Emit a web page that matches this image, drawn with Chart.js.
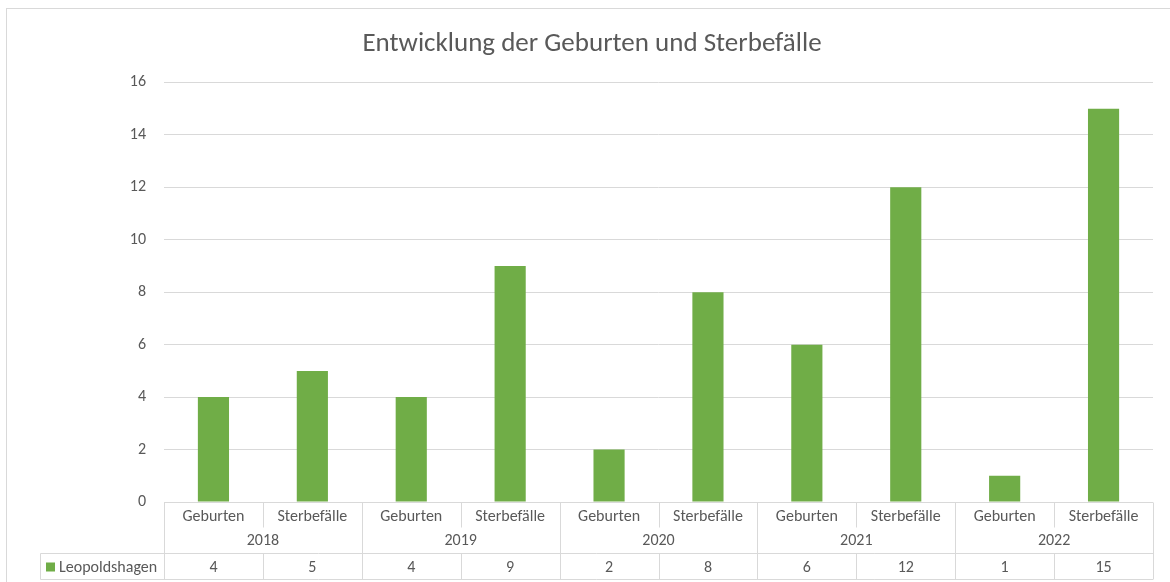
<!DOCTYPE html>
<html>
<head>
<meta charset="utf-8">
<script src="https://cdn.jsdelivr.net/npm/chart.js@4/dist/chart.umd.min.js"></script>
<style>
html,body{margin:0;padding:0;background:#fff;}
#wrap{position:relative;width:1170px;height:582px;}
</style>
</head>
<body>
<div id="wrap"><canvas id="c" width="1170" height="582"></canvas></div>
<script>
const years = ['2018', '2019', '2020', '2021', '2022'];
const kinds = ['Geburten', 'Sterbefälle'];
const seriesName = 'Leopoldshagen';
const values = [4, 5, 4, 9, 2, 8, 6, 12, 1, 15];
const yTicks = [0, 2, 4, 6, 8, 10, 12, 14, 16];

const labels = [];
years.forEach(y => kinds.forEach(k => labels.push(k + ' ' + y)));

const FONT = "Carlito, Lato, 'Liberation Sans', sans-serif";
const TXT = '#595959';
const LINE = '#d9d9d9';
const BAR = '#70ad47';

const framePlugin = {
  id: 'frame',
  beforeDraw(chart) {
    const ctx = chart.ctx;
    ctx.save();
    ctx.fillStyle = '#fff';
    ctx.fillRect(0, 0, chart.width, chart.height);
    ctx.strokeStyle = LINE;
    ctx.lineWidth = 1;
    ctx.strokeRect(6.5, 8.5, chart.width + 10, chart.height + 10);
    ctx.restore();
  }
};

const tablePlugin = {
  id: 'dataTable',
  afterDraw(chart) {
    const ctx = chart.ctx;
    const xs = chart.scales.x;
    const area = chart.chartArea;
    const n = labels.length;
    const cw = (area.right - area.left) / n;
    const top = Math.round(area.bottom) + 0.5;
    const row1 = top + 25;
    const row2 = top + 51;
    const bottom = top + 77;
    const leftEdge = 40.5;
    ctx.save();
    ctx.strokeStyle = LINE;
    ctx.lineWidth = 1;
    ctx.beginPath();
    ctx.moveTo(area.left, top); ctx.lineTo(area.right, top);
    ctx.moveTo(leftEdge, row2); ctx.lineTo(area.right, row2);
    ctx.moveTo(leftEdge, bottom); ctx.lineTo(area.right, bottom);
    ctx.moveTo(leftEdge, row2); ctx.lineTo(leftEdge, bottom);
    for (let i = 0; i <= n; i++) {
      const x = Math.round(area.left + i * cw) + 0.5;
      if (i % 2 === 0) {
        ctx.moveTo(x, top); ctx.lineTo(x, bottom);
      } else {
        ctx.moveTo(x, top); ctx.lineTo(x, row1);
        ctx.moveTo(x, row2); ctx.lineTo(x, bottom);
      }
    }
    ctx.stroke();

    ctx.fillStyle = TXT;
    ctx.textAlign = 'center';
    ctx.textBaseline = 'middle';
    ctx.font = '16px ' + FONT;
    for (let i = 0; i < n; i++) {
      const cx = xs.getPixelForValue(i);
      ctx.fillText(kinds[i % 2], cx, top + 14);
      ctx.fillText(String(values[i]), cx, row2 + 14);
    }
    years.forEach((y, j) => {
      const cx = (xs.getPixelForValue(2 * j) + xs.getPixelForValue(2 * j + 1)) / 2;
      ctx.fillText(y, cx, row1 + 13);
    });
    ctx.fillStyle = BAR;
    ctx.fillRect(46, row2 + 9, 9, 9);
    ctx.fillStyle = TXT;
    ctx.textAlign = 'left';
    ctx.fillText(seriesName, 59, row2 + 14);
    ctx.restore();
  }
};

new Chart(document.getElementById('c'), {
  type: 'bar',
  data: {
    labels: labels,
    datasets: [{
      label: seriesName,
      data: values,
      backgroundColor: BAR,
      borderWidth: 0,
      categoryPercentage: 1,
      barPercentage: 0.315
    }]
  },
  options: {
    responsive: false,
    animation: false,
    devicePixelRatio: 1,
    layout: { padding: { left: 31, right: 17, top: 0, bottom: 80 } },
    plugins: {
      legend: { display: false },
      tooltip: { enabled: false },
      title: {
        display: true,
        text: 'Entwicklung der Geburten und Sterbefälle',
        color: TXT,
        font: { family: FONT, size: 27, weight: 'normal', lineHeight: 1.2 },
        padding: { top: 28, bottom: 22 }
      }
    },
    scales: {
      x: {
        display: false,
        offset: true,
        grid: { display: false }
      },
      y: {
        min: 0,
        max: 16,
        afterFit(scale) { scale.width = 133; },
        afterBuildTicks(scale) { scale.ticks = yTicks.map(v => ({ value: v })); },
        border: { display: false },
        grid: { color: LINE, lineWidth: 1, drawTicks: false },
        ticks: {
          color: TXT,
          padding: 18,
          font: { family: FONT, size: 16 }
        }
      }
    }
  },
  plugins: [framePlugin, tablePlugin]
});
</script>
</body>
</html>
